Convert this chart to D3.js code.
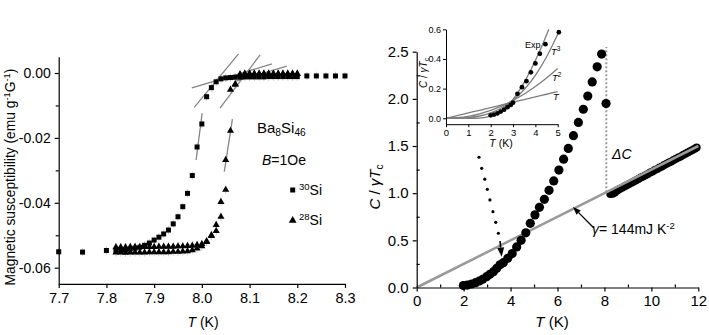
<!DOCTYPE html>
<html><head><meta charset="utf-8">
<script src="https://cdn.jsdelivr.net/npm/d3@7"></script>
<style>
body{margin:0;background:#fff}
svg{display:block}
text{font-family:"Liberation Sans",Arial,sans-serif;fill:#000}
</style>
</head><body>
<svg id="c" width="709" height="335"></svg>
<script>
// ---------------- LEFT PANEL DATA ----------------
const leftXTicks = [7.7, 7.8, 7.9, 8.0, 8.1, 8.2, 8.3];
const leftYTicks = [0, -0.02, -0.04, -0.06];
const leftYMinor = [-0.01, -0.03, -0.05];
const chiErr = 0.0013;

const si30T = [7.70,7.75,7.80,7.82,7.83,7.84,7.85,7.86,7.87,7.88,7.89,7.90,7.91,7.92,7.93,7.94,7.95,7.96,7.97,7.98,7.99,8.00,8.01,8.02,8.03,8.04,8.05,8.06,8.07,8.08,8.09,8.10,8.11,8.12,8.13,8.14,8.15,8.16,8.17,8.18,8.19,8.20,8.22,8.24,8.26,8.28,8.30];
const si30Chi = [-0.0551,-0.0552,-0.0547,-0.0546,-0.0545,-0.0544,-0.0542,-0.0540,-0.0537,-0.0531,-0.0524,-0.0515,-0.0506,-0.0496,-0.0484,-0.0465,-0.0443,-0.0412,-0.0371,-0.0316,-0.0228,-0.0157,-0.0073,-0.0045,-0.0027,-0.0018,-0.0015,-0.0014,-0.0013,-0.0013,-0.0012,-0.0012,-0.0012,-0.0012,-0.0012,-0.0011,-0.0011,-0.0011,-0.0011,-0.0011,-0.0011,-0.0011,-0.0009,-0.0009,-0.0009,-0.0009,-0.0009];

const si28aT = [7.82,7.83,7.84,7.85,7.86,7.87,7.88,7.89,7.90,7.91,7.92,7.93,7.94,7.95,7.96,7.97,7.98,7.99,8.00,8.01,8.02,8.03,8.04,8.05,8.06,8.07,8.08,8.09,8.10,8.11,8.12,8.13,8.14,8.15,8.16,8.17,8.18,8.19,8.20];
const si28aChi = [-0.0537,-0.0537,-0.0537,-0.0536,-0.0536,-0.0536,-0.0536,-0.0536,-0.0536,-0.0535,-0.0535,-0.0535,-0.0535,-0.0534,-0.0534,-0.0533,-0.0532,-0.0530,-0.0527,-0.0518,-0.0502,-0.0487,-0.0443,-0.0360,-0.0178,-0.0036,-0.0006,-0.0004,-0.0003,-0.0003,-0.0003,-0.0003,-0.0003,-0.0003,-0.0003,-0.0003,-0.0003,-0.0003,-0.0003];

const si28bT = [7.82,7.83,7.84,7.85,7.86,7.87,7.88,7.89,7.90,7.91,7.92,7.93,7.94,7.95,7.96,7.97,7.98,7.99,8.00,8.01,8.02,8.03,8.04,8.05,8.06,8.07,8.08,8.09,8.10,8.11,8.12,8.13,8.14,8.15,8.16,8.17,8.18,8.19,8.20];
const si28bChi = [-0.0553,-0.0553,-0.0554,-0.0553,-0.0553,-0.0553,-0.0553,-0.0552,-0.0552,-0.0552,-0.0552,-0.0552,-0.0551,-0.0551,-0.0550,-0.0549,-0.0546,-0.0541,-0.0534,-0.0521,-0.0500,-0.0468,-0.0397,-0.0268,-0.0051,-0.0034,-0.0004,-0.0002,-0.0002,-0.0002,-0.0002,-0.0002,-0.0002,-0.0002,-0.0002,-0.0002,-0.0002,-0.0002,-0.0002];

// tangent / fit lines: [T1, chi1, T2, chi2]
const leftFitLines = [
  [7.988, -0.0268, 8.0006, -0.0124],
  [8.047, -0.0304, 8.064, -0.0142],
  [7.984, -0.0106, 8.077, 0.0059],
  [7.979, -0.0046, 8.147, 0.0028],
  [8.038, -0.0108, 8.122, 0.0056],
  [8.070, -0.0026, 8.178, 0.0021]
];

// ---------------- RIGHT PANEL DATA ----------------
const rightXTicks = [0, 2, 4, 6, 8, 10, 12];
const rightXMinor = [1, 3, 5, 7, 9, 11];
const rightYTicks = [0, 0.5, 1.0, 1.5, 2.0, 2.5];
const rightYMinor = [0.25, 0.75, 1.25, 1.75, 2.25];

const scT = [1.99,2.16,2.34,2.51,2.67,2.81,2.98,3.12,3.27,3.41,3.55,3.69,3.88,4.07,4.26,4.45,4.65,4.84,5.04,5.23,5.44,5.64,5.84,6.06,6.26,6.46,6.68,6.89,7.10,7.29,7.48,7.69,7.88,8.07];
const scC = [0.020,0.026,0.037,0.051,0.069,0.087,0.115,0.140,0.168,0.203,0.240,0.263,0.310,0.360,0.430,0.500,0.580,0.680,0.770,0.850,0.935,1.030,1.130,1.245,1.360,1.475,1.610,1.750,1.890,2.030,2.180,2.340,2.475,1.950];

const nT = [8.25,8.35,8.45,8.55,8.65,8.75,8.85,8.95,9.05,9.15,9.25,9.35,9.45,9.55,9.65,9.75,9.85,9.95,10.05,10.15,10.25,10.35,10.45,10.55,10.65,10.75,10.85,10.95,11.05,11.15,11.25,11.35,11.45,11.55,11.65,11.75,11.85,11.93];
const nC = [0.990,0.995,1.008,1.028,1.044,1.058,1.071,1.085,1.098,1.111,1.124,1.138,1.151,1.165,1.177,1.191,1.204,1.218,1.231,1.245,1.257,1.271,1.284,1.298,1.311,1.324,1.337,1.351,1.364,1.378,1.390,1.404,1.417,1.431,1.444,1.458,1.470,1.483];

const gammaLineT = [0, 12];
const gammaLineC = [0, 1.5];

const deltaCT = 8.08;
const deltaCRange = [1.01, 2.55];

// dotted arrow (annotation) and gamma arrow
const dotArrowT = [2.654,2.77,2.90,3.01,3.12,3.25,3.37,3.48];
const dotArrowC = [1.381,1.264,1.148,1.041,0.928,0.804,0.691,0.575];
const dotArrowHead = [3.55, 0.493, 3.62, 0.327];
const gammaArrow = [7.55, 0.631, 6.66, 0.854];

// ---------------- INSET DATA ----------------
const insXTicks = [0,1,2,3,4,5];
const insYTicks = [0, 0.2, 0.4, 0.6];
const insT = [2.0,2.15,2.3,2.45,2.6,2.75,2.9,3.0,3.2,3.4,3.6,3.8,4.0,4.2,4.45,5.05];
const insC = [0.020,0.025,0.033,0.045,0.058,0.075,0.090,0.105,0.165,0.210,0.250,0.310,0.370,0.435,0.500,0.580];
const fitT = [0,0.5,1,1.5,2,2.5,3,3.5,4,4.5,5];
const fitLin = [0,0.018,0.036,0.054,0.072,0.090,0.108,0.126,0.144,0.162,0.180];
const fitSq = [0,0.0034,0.0134,0.0302,0.0536,0.0838,0.1206,0.164,0.214,0.271,0.335];
const fitCube = [0,0.0006,0.0045,0.0153,0.0362,0.0708,0.122,0.194,0.290,0.413,0.566];
const fitExpT = [0,1,1.5,2,2.5,3,3.5,4,4.5,4.6];
const fitExp = [0,0.00002,0.0015,0.014,0.053,0.128,0.242,0.389,0.562,0.600];

// ================= DRAW =================
const svg = d3.select("#c");
svg.append("rect").attr("width",709).attr("height",335).attr("fill","#fff");

function richText(g, x, y, parts, opts) {
  const t = g.append("text").attr("x", x).attr("y", y)
    .attr("font-size", opts.size).attr("text-anchor", opts.anchor || "start");
  if (opts.transform) t.attr("transform", opts.transform);
  let shift = 0;
  parts.forEach(p => {
    const ts = t.append("tspan").text(p.t);
    let target = 0, fs = opts.size;
    if (p.sup) { target = -opts.size*0.38; fs = opts.size*0.68; }
    if (p.sub) { target = opts.size*0.22; fs = opts.size*0.68; }
    ts.attr("dy", target - shift).attr("font-size", fs);
    shift = target;
    if (p.it) ts.attr("font-style","italic");
  });
  return t;
}

function styleAxis(g, fs) {
  g.selectAll("path.domain").attr("stroke","#000").attr("stroke-width",1.2);
  g.selectAll(".tick line").attr("stroke","#000").attr("stroke-width",1.2);
  g.selectAll(".tick text").attr("font-size", fs).attr("font-family",'"Liberation Sans",Arial,sans-serif').attr("fill","#000");
}

// ---- Left panel ----
const xL = d3.scaleLinear().domain([7.7, 8.3]).range([58.7, 345]);
const yL = d3.scaleLinear().domain([-0.065, 0.005]).range([283.9, 56.8]);
const gL = svg.append("g");

// error bars
const errG = gL.append("g").attr("stroke","#cfcfcf").attr("stroke-width",1);
function errBars(T, C) {
  d3.zip(T, C).forEach(([t,c]) => {
    errG.append("line").attr("x1",xL(t)).attr("x2",xL(t))
      .attr("y1",yL(c-chiErr)).attr("y2",yL(c+chiErr));
  });
}
errBars(si30T, si30Chi); errBars(si28aT, si28aChi); errBars(si28bT, si28bChi);

// fit lines
gL.append("g").selectAll("line").data(leftFitLines).join("line")
  .attr("x1", d=>xL(d[0])).attr("y1", d=>yL(d[1]))
  .attr("x2", d=>xL(d[2])).attr("y2", d=>yL(d[3]))
  .attr("stroke","#858585").attr("stroke-width",1.3);

// markers
const tri = d3.symbol().type(d3.symbolTriangle).size(22);
function triangles(T, C) {
  gL.append("g").selectAll("path").data(d3.zip(T,C)).join("path")
    .attr("d", tri).attr("transform", d=>`translate(${xL(d[0])},${yL(d[1])})`).attr("fill","#000");
}
triangles(si28bT, si28bChi);
triangles(si28aT, si28aChi);
gL.append("g").selectAll("rect").data(d3.zip(si30T, si30Chi)).join("rect")
  .attr("x", d=>xL(d[0])-2.5).attr("y", d=>yL(d[1])-2.5).attr("width",5).attr("height",5).attr("fill","#000");

// axes
const axLy = gL.append("g").attr("transform","translate(58.7,0)")
  .call(d3.axisLeft(yL).tickValues(leftYTicks).tickSize(4).tickSizeOuter(0).tickPadding(4)
        .tickFormat(d => d === 0 ? "0.00" : d.toFixed(2)));
styleAxis(axLy, 14);
const axLyM = gL.append("g").attr("transform","translate(58.7,0)")
  .call(d3.axisLeft(yL).tickValues(leftYMinor).tickSize(3).tickFormat(""));
axLyM.select("path.domain").remove(); styleAxis(axLyM, 14);
const axLx = gL.append("g").attr("transform","translate(0,283.9)")
  .call(d3.axisBottom(xL).tickValues(leftXTicks).tickSize(4).tickSizeOuter(0).tickPadding(5)
        .tickFormat(d3.format(".1f")));
styleAxis(axLx, 14.5);

// labels
richText(gL, 15, 177, [
  {t:"Magnetic susceptibility (emu g"},{t:"-1",sup:true},{t:"G",},{t:"-1",sup:true},{t:")"}
], {size:13.8, anchor:"middle", transform:"rotate(-90,15,177)"});
richText(gL, 203, 327, [{t:"T",it:true},{t:" (K)"}], {size:14, anchor:"middle"});
richText(gL, 257, 133, [{t:"Ba"},{t:"8",sub:true},{t:"Si"},{t:"46",sub:true}], {size:15});
richText(gL, 262, 165, [{t:"B",it:true},{t:"=1Oe"}], {size:14});
gL.append("rect").attr("x",290.2).attr("y",187.5).attr("width",5).attr("height",5).attr("fill","#000");
richText(gL, 299, 195, [{t:"30",sup:true},{t:"Si"}], {size:14});
gL.append("path").attr("d", d3.symbol().type(d3.symbolTriangle).size(26)).attr("transform","translate(292.7,220.5)").attr("fill","#000");
richText(gL, 299, 225, [{t:"28",sup:true},{t:"Si"}], {size:14});

// ---- Right panel ----
const xR = d3.scaleLinear().domain([0, 12]).range([416.7, 698.3]);
const yR = d3.scaleLinear().domain([0, 2.5]).range([287.5, 51.7]);
const gR = svg.append("g");

// delta C dotted line
gR.append("line").attr("x1",xR(deltaCT)).attr("x2",xR(deltaCT))
  .attr("y1",yR(deltaCRange[0])).attr("y2",yR(deltaCRange[1]))
  .attr("stroke","#9a9a9a").attr("stroke-width",2).attr("stroke-dasharray","2,2");

// normal-state data
gR.append("g").selectAll("circle").data(d3.zip(nT,nC)).join("circle")
  .attr("cx",d=>xR(d[0])).attr("cy",d=>yR(d[1])).attr("r",4).attr("fill","#000");

// gamma line
gR.append("line").attr("x1",xR(gammaLineT[0])).attr("y1",yR(gammaLineC[0]))
  .attr("x2",xR(gammaLineT[1])).attr("y2",yR(gammaLineC[1]))
  .attr("stroke","#9a9a9a").attr("stroke-width",2.6);

// superconducting-state data
gR.append("g").selectAll("circle").data(d3.zip(scT,scC)).join("circle")
  .attr("cx",d=>xR(d[0])).attr("cy",d=>yR(d[1])).attr("r",4.6).attr("fill","#000");

// dotted arrow
gR.append("g").selectAll("circle").data(d3.zip(dotArrowT,dotArrowC)).join("circle")
  .attr("cx",d=>xR(d[0])).attr("cy",d=>yR(d[1])).attr("r",1.6).attr("fill","#000");
function arrow(g, x1,y1,x2,y2, len, wid, sw) {
  const ang = Math.atan2(y2-y1, x2-x1);
  const bx = x2 - len*Math.cos(ang), by = y2 - len*Math.sin(ang);
  g.append("line").attr("x1",x1).attr("y1",y1).attr("x2",bx).attr("y2",by)
    .attr("stroke","#000").attr("stroke-width",sw);
  const px = -Math.sin(ang)*wid/2, py = Math.cos(ang)*wid/2;
  g.append("path").attr("d",`M${x2},${y2}L${bx+px},${by+py}L${bx-px},${by-py}Z`).attr("fill","#000");
}
arrow(gR, xR(dotArrowHead[0]), yR(dotArrowHead[1]), xR(dotArrowHead[2]), yR(dotArrowHead[3]), 9, 7, 1.6);
arrow(gR, xR(gammaArrow[0]), yR(gammaArrow[1]), xR(gammaArrow[2]), yR(gammaArrow[3]), 8, 6, 1.3);

// axes
const axRy = gR.append("g").attr("transform","translate(416.7,0)")
  .call(d3.axisLeft(yR).tickValues(rightYTicks).tickSize(4).tickSizeOuter(0).tickPadding(4)
        .tickFormat(d3.format(".1f")));
styleAxis(axRy, 15);
const axRyM = gR.append("g").attr("transform","translate(416.7,0)")
  .call(d3.axisRight(yR).tickValues(rightYMinor).tickSize(3).tickFormat(""));
axRyM.select("path.domain").remove(); styleAxis(axRyM, 15);
const axRx = gR.append("g").attr("transform","translate(0,287.5)")
  .call(d3.axisBottom(xR).tickValues(rightXTicks).tickSize(4).tickSizeOuter(0).tickPadding(4)
        .tickFormat(d3.format("d")));
styleAxis(axRx, 15);
const axRxM = gR.append("g").attr("transform","translate(0,287.5)")
  .call(d3.axisTop(xR).tickValues(rightXMinor).tickSize(3).tickFormat(""));
axRxM.select("path.domain").remove(); styleAxis(axRxM, 15);

richText(gR, 380, 187, [{t:"C",it:true},{t:" / "},{t:"γ",it:true},{t:"T",it:true},{t:"c",sub:true}],
  {size:15, anchor:"middle", transform:"rotate(-90,380,187)"});
richText(gR, 552, 327, [{t:"T",it:true},{t:" (K)"}], {size:15, anchor:"middle"});
richText(gR, 612, 159, [{t:"ΔC",it:true}], {size:14});
richText(gR, 592, 234, [{t:"γ",it:true},{t:"= 144mJ K"},{t:"-2",sup:true}], {size:14});

// ---- Inset ----
const xI = d3.scaleLinear().domain([0, 5]).range([446, 557.7]);
const yI = d3.scaleLinear().domain([-0.04, 0.6]).range([124.2, 29.3]);
const gI = svg.append("g");
const lineI = (T) => d3.line().x((d,i)=>xI(T[i])).y(d=>yI(d)).curve(d3.curveMonotoneX);
[fitLin, fitSq, fitCube].forEach(arr => {
  gI.append("path").attr("d", lineI(fitT)(arr)).attr("fill","none")
    .attr("stroke","#7d7d7d").attr("stroke-width",1.3);
});
gI.append("path").attr("d", lineI(fitExpT)(fitExp)).attr("fill","none")
  .attr("stroke","#7d7d7d").attr("stroke-width",1.3);
gI.append("g").selectAll("circle").data(d3.zip(insT,insC)).join("circle")
  .attr("cx",d=>xI(d[0])).attr("cy",d=>yI(d[1])).attr("r",2.4).attr("fill","#000");

const axIy = gI.append("g").attr("transform","translate(446,0)")
  .call(d3.axisLeft(yI).tickValues(insYTicks).tickSize(3).tickSizeOuter(0).tickPadding(2)
        .tickFormat(d3.format(".1f")));
styleAxis(axIy, 9); axIy.selectAll("path.domain,.tick line").attr("stroke-width",1);
const axIx = gI.append("g").attr("transform","translate(0,124.2)")
  .call(d3.axisBottom(xI).tickValues(insXTicks).tickSize(3).tickSizeOuter(0).tickPadding(2)
        .tickFormat(d3.format("d")));
styleAxis(axIx, 9.5); axIx.selectAll("path.domain,.tick line").attr("stroke-width",1);

richText(gI, 427, 73, [{t:"C",it:true},{t:" / "},{t:"γ",it:true},{t:"T",it:true},{t:"c",sub:true}],
  {size:10, anchor:"middle", transform:"rotate(-90,427,73)"});
richText(gI, 501, 147, [{t:"T",it:true},{t:" (K)"}], {size:10.5, anchor:"middle"});
richText(gI, 525, 48, [{t:"Exp"}], {size:9});
richText(gI, 551, 55, [{t:"T",it:true},{t:"3",sup:true}], {size:9.5});
richText(gI, 552, 81, [{t:"T",it:true},{t:"2",sup:true}], {size:9.5});
richText(gI, 553, 100, [{t:"T",it:true}], {size:9.5});
</script>
</body></html>
